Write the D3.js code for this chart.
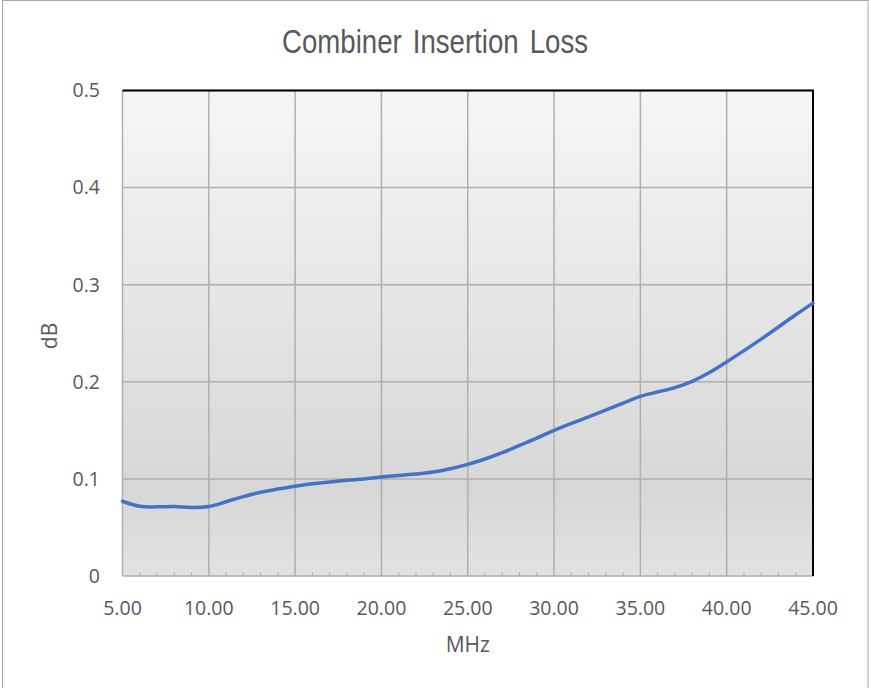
<!DOCTYPE html>
<html>
<head>
<meta charset="utf-8">
<script src="https://cdn.jsdelivr.net/npm/d3@7"></script>
<style>
  body { margin: 0; background: #fff; }
  text { fill: #595959; }
</style>
</head>
<body>
<div id="chart"></div>
<script>
// values
const freqs = [5, 6, 7, 8, 9, 10, 11, 12, 13, 14, 15, 16, 17, 18, 19, 20, 22, 23, 24, 25, 26, 27, 28, 29, 30, 32, 34, 35, 36, 37, 38, 39, 40, 42, 44, 45];
const loss  = [0.077, 0.0718, 0.0712, 0.0715, 0.0706, 0.0715, 0.0765, 0.0818, 0.0862, 0.0895, 0.0925, 0.095, 0.0968, 0.0985, 0.1, 0.102, 0.105, 0.107, 0.1105, 0.115, 0.1205, 0.127, 0.1345, 0.142, 0.150, 0.164, 0.178, 0.185, 0.1895, 0.194, 0.2005, 0.2095, 0.2205, 0.244, 0.269, 0.281];
const xTicks = [5, 10, 15, 20, 25, 30, 35, 40, 45];
const yTicks = [0, 0.1, 0.2, 0.3, 0.4, 0.5];

const width = 869, height = 688;
const margin = { top: 90.5, right: 56, bottom: 112, left: 122.5 };

const svg = d3.select('#chart').append('svg')
    .attr('width', width)
    .attr('height', height);

// outer chart frame
svg.append('rect')
    .attr('x', 2.5).attr('y', 0.5)
    .attr('width', 865.5).attr('height', 720)
    .attr('fill', 'white')
    .attr('stroke', '#a6a6a6');

const x = d3.scaleLinear().domain([5, 45]).range([margin.left, width - margin.right]);
const y = d3.scaleLinear().domain([0, 0.5]).range([height - margin.bottom, margin.top]);

// plot background gradient
const grad = svg.append('defs').append('linearGradient')
    .attr('id', 'bg').attr('x1', 0).attr('y1', 0).attr('x2', 0).attr('y2', 1);
grad.append('stop').attr('offset', '0%').attr('stop-color', '#f6f6f6');
grad.append('stop').attr('offset', '82%').attr('stop-color', '#d7d7d7');
grad.append('stop').attr('offset', '100%').attr('stop-color', '#e2e2e2');

svg.append('rect')
    .attr('x', x(5)).attr('y', y(0.5))
    .attr('width', x(45) - x(5)).attr('height', y(0) - y(0.5))
    .attr('fill', 'url(#bg)');

// grid
const gridColor = '#b3aeae';
svg.append('g').selectAll('line')
    .data(yTicks.slice(1))
    .enter().append('line')
    .attr('x1', x(5)).attr('x2', x(45))
    .attr('y1', d => y(d)).attr('y2', d => y(d))
    .attr('stroke', gridColor).attr('stroke-width', 1.5);

svg.append('g').selectAll('line')
    .data(xTicks)
    .enter().append('line')
    .attr('x1', d => x(d)).attr('x2', d => x(d))
    .attr('y1', y(0)).attr('y2', y(0.5))
    .attr('stroke', gridColor).attr('stroke-width', 1.5);

// minor ticks on the x axis
svg.append('g').selectAll('line')
    .data(d3.range(6, 45).filter(d => d % 5 !== 0))
    .enter().append('line')
    .attr('x1', d => x(d)).attr('x2', d => x(d))
    .attr('y1', y(0)).attr('y2', y(0) - 4)
    .attr('stroke', gridColor).attr('stroke-width', 1);

// bottom axis line
svg.append('line')
    .attr('x1', x(5)).attr('x2', x(45))
    .attr('y1', y(0)).attr('y2', y(0))
    .attr('stroke', gridColor).attr('stroke-width', 1.5);

// top and right black border
svg.append('path')
    .attr('d', `M${x(5)},${y(0.5)}H${x(45)}V${y(0)}`)
    .attr('fill', 'none')
    .attr('stroke', '#000')
    .attr('stroke-width', 2);

// data line
const line = d3.line()
    .x((d, i) => x(freqs[i]))
    .y(d => y(d))
    .curve(d3.curveCatmullRom.alpha(0.5));

svg.append('path')
    .datum(loss)
    .attr('d', line)
    .attr('fill', 'none')
    .attr('stroke', '#4472c4')
    .attr('stroke-width', 3.5)
    .attr('stroke-linecap', 'round');

// tick labels
const tickFont = '"Open Sans", sans-serif';
svg.append('g').selectAll('text')
    .data(yTicks)
    .enter().append('text')
    .attr('x', 100)
    .attr('y', d => y(d))
    .attr('dy', '0.35em')
    .attr('text-anchor', 'end')
    .style('font-family', tickFont)
    .style('font-size', '19.5px')
    .text(d => d === 0 ? '0' : d3.format('.1f')(d));

svg.append('g').selectAll('text')
    .data(xTicks)
    .enter().append('text')
    .attr('x', d => x(d))
    .attr('y', 608)
    .attr('dy', '0.35em')
    .attr('text-anchor', 'middle')
    .style('font-family', tickFont)
    .style('font-size', '19.5px')
    .text(d => d3.format('.2f')(d));

// axis titles
svg.append('text')
    .attr('x', (x(5) + x(45)) / 2)
    .attr('y', 645)
    .attr('dy', '0.35em')
    .attr('text-anchor', 'middle')
    .style('font-family', tickFont)
    .style('font-size', '21px')
    .text('MHz');

svg.append('text')
    .attr('transform', 'translate(50,336) rotate(-90)')
    .attr('dy', '0.35em')
    .attr('text-anchor', 'middle')
    .style('font-family', tickFont)
    .style('font-size', '21px')
    .text('dB');

// chart title (narrow face in the original, squeezed to its width)
svg.append('text')
    .attr('x', 282)
    .attr('y', 53)
    .attr('textLength', 306)
    .attr('lengthAdjust', 'spacingAndGlyphs')
    .style('font-family', '"Liberation Sans", sans-serif')
    .style('font-size', '33px')
    .style('word-spacing', '4px')
    .text('Combiner Insertion Loss');
</script>
</body>
</html>
